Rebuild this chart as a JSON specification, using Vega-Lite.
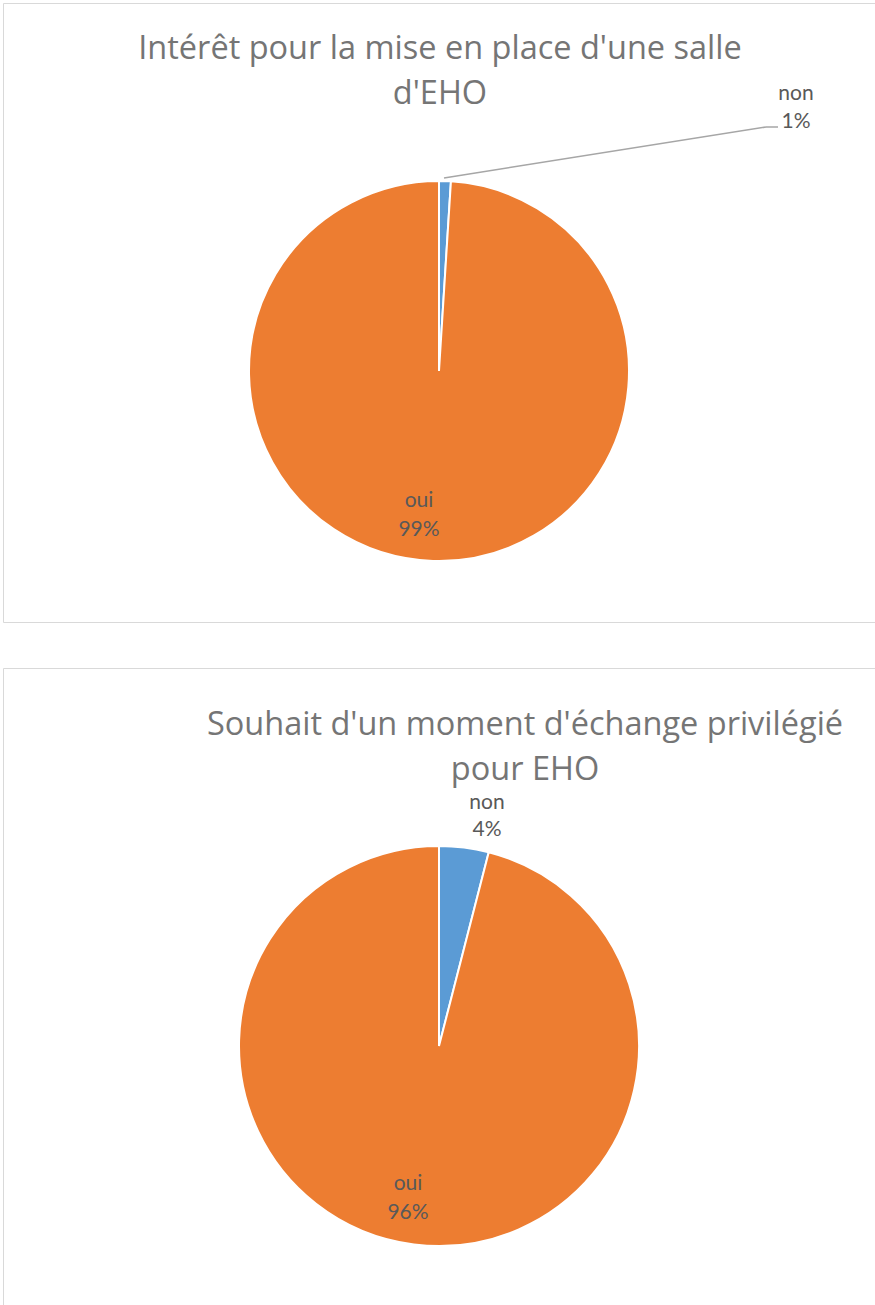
{
  "$schema": "https://vega.github.io/schema/vega-lite/v6.json",
  "padding": {"left": 2, "top": 2, "right": 1, "bottom": 0},
  "background": "#FFFFFF",
  "spacing": 44,
  "config": {
    "view": {"stroke": "#D9D9D9", "strokeWidth": 1},
    "font": "Lato",
    "text": {"font": "Lato"}
  },
  "vconcat": [
    {
      "width": 872,
      "height": 619,
      "data": {"values": [
        {"category": "non", "value": 0.01, "order": 1},
        {"category": "oui", "value": 0.99, "order": 2}
      ]},
      "layer": [
        {
          "mark": {"type": "arc", "outerRadius": 190, "stroke": "#FFFFFF", "strokeWidth": 2},
          "encoding": {
            "theta": {"field": "value", "type": "quantitative", "stack": true},
            "color": {"field": "category", "type": "nominal", "scale": {"domain": ["non", "oui"], "range": ["#5B9BD5", "#ED7D31"]}, "legend": null},
            "order": {"field": "order", "type": "quantitative"},
            "x": {"datum": 0, "type": "quantitative", "scale": {"domain": [-436, 436], "nice": false, "zero": false}, "axis": null},
            "y": {"datum": 0, "type": "quantitative", "scale": {"domain": [-251, 368], "nice": false, "zero": false}, "axis": null}
          }
        },
        {
          "transform": [{"filter": "datum.category === 'oui'"}],
          "mark": {"type": "text", "text": ["Intérêt pour la mise en place d'une salle", "d'EHO"], "font": "Open Sans", "fontSize": 32.5, "color": "#757575", "align": "center", "baseline": "alphabetic", "lineHeight": 45.3},
          "encoding": {
            "x": {"datum": 1, "type": "quantitative", "scale": {"domain": [-436, 436], "nice": false, "zero": false}, "axis": null},
            "y": {"datum": 312.3, "type": "quantitative", "scale": {"domain": [-251, 368], "nice": false, "zero": false}, "axis": null}
          }
        },
        {
          "transform": [{"filter": "datum.category === 'non'"}],
          "mark": {"type": "rule", "color": "#A6A6A6", "strokeWidth": 1.5},
          "encoding": {
            "x": {"datum": 5, "type": "quantitative", "scale": {"domain": [-436, 436], "nice": false, "zero": false}, "axis": null},
            "y": {"datum": 193, "type": "quantitative", "scale": {"domain": [-251, 368], "nice": false, "zero": false}, "axis": null},
            "x2": {"datum": 327},
            "y2": {"datum": 244}
          }
        },
        {
          "transform": [{"filter": "datum.category === 'non'"}],
          "mark": {"type": "rule", "color": "#A6A6A6", "strokeWidth": 1.5},
          "encoding": {
            "x": {"datum": 327, "type": "quantitative", "scale": {"domain": [-436, 436], "nice": false, "zero": false}, "axis": null},
            "y": {"datum": 244, "type": "quantitative", "scale": {"domain": [-251, 368], "nice": false, "zero": false}, "axis": null},
            "x2": {"datum": 339},
            "y2": {"datum": 244}
          }
        },
        {
          "transform": [{"filter": "datum.category === 'non'"}],
          "mark": {"type": "text", "fontSize": 21, "color": "#595959", "align": "center", "baseline": "alphabetic"},
          "encoding": {
            "text": {"field": "category", "type": "nominal"},
            "x": {"datum": 357, "type": "quantitative", "scale": {"domain": [-436, 436], "nice": false, "zero": false}, "axis": null},
            "y": {"datum": 271, "type": "quantitative", "scale": {"domain": [-251, 368], "nice": false, "zero": false}, "axis": null}
          }
        },
        {
          "transform": [{"filter": "datum.category === 'non'"}],
          "mark": {"type": "text", "fontSize": 21, "color": "#595959", "align": "center", "baseline": "alphabetic"},
          "encoding": {
            "text": {"field": "value", "type": "quantitative", "format": ".0%"},
            "x": {"datum": 357, "type": "quantitative", "scale": {"domain": [-436, 436], "nice": false, "zero": false}, "axis": null},
            "y": {"datum": 243, "type": "quantitative", "scale": {"domain": [-251, 368], "nice": false, "zero": false}, "axis": null}
          }
        },
        {
          "transform": [{"filter": "datum.category === 'oui'"}],
          "mark": {"type": "text", "fontSize": 21, "color": "#595959", "align": "center", "baseline": "alphabetic"},
          "encoding": {
            "text": {"field": "category", "type": "nominal"},
            "x": {"datum": -20, "type": "quantitative", "scale": {"domain": [-436, 436], "nice": false, "zero": false}, "axis": null},
            "y": {"datum": -136, "type": "quantitative", "scale": {"domain": [-251, 368], "nice": false, "zero": false}, "axis": null}
          }
        },
        {
          "transform": [{"filter": "datum.category === 'oui'"}],
          "mark": {"type": "text", "fontSize": 21, "color": "#595959", "align": "center", "baseline": "alphabetic"},
          "encoding": {
            "text": {"field": "value", "type": "quantitative", "format": ".0%"},
            "x": {"datum": -20, "type": "quantitative", "scale": {"domain": [-436, 436], "nice": false, "zero": false}, "axis": null},
            "y": {"datum": -165, "type": "quantitative", "scale": {"domain": [-251, 368], "nice": false, "zero": false}, "axis": null}
          }
        }
      ]
    },
    {
      "width": 872,
      "height": 645,
      "data": {"values": [
        {"category": "non", "value": 0.04, "order": 1},
        {"category": "oui", "value": 0.96, "order": 2}
      ]},
      "layer": [
        {
          "mark": {"type": "arc", "outerRadius": 200, "stroke": "#FFFFFF", "strokeWidth": 2},
          "encoding": {
            "theta": {"field": "value", "type": "quantitative", "stack": true},
            "color": {"field": "category", "type": "nominal", "scale": {"domain": ["non", "oui"], "range": ["#5B9BD5", "#ED7D31"]}, "legend": null},
            "order": {"field": "order", "type": "quantitative"},
            "x": {"datum": 0, "type": "quantitative", "scale": {"domain": [-436, 436], "nice": false, "zero": false}, "axis": null},
            "y": {"datum": 0, "type": "quantitative", "scale": {"domain": [-267, 378], "nice": false, "zero": false}, "axis": null}
          }
        },
        {
          "transform": [{"filter": "datum.category === 'oui'"}],
          "mark": {"type": "text", "text": ["Souhait d'un moment d'échange privilégié", "pour EHO"], "font": "Open Sans", "fontSize": 32.5, "color": "#757575", "align": "center", "baseline": "alphabetic", "lineHeight": 45},
          "encoding": {
            "x": {"datum": 86, "type": "quantitative", "scale": {"domain": [-436, 436], "nice": false, "zero": false}, "axis": null},
            "y": {"datum": 311, "type": "quantitative", "scale": {"domain": [-267, 378], "nice": false, "zero": false}, "axis": null}
          }
        },
        {
          "transform": [{"filter": "datum.category === 'non'"}],
          "mark": {"type": "text", "fontSize": 21, "color": "#595959", "align": "center", "baseline": "alphabetic"},
          "encoding": {
            "text": {"field": "category", "type": "nominal"},
            "x": {"datum": 48, "type": "quantitative", "scale": {"domain": [-436, 436], "nice": false, "zero": false}, "axis": null},
            "y": {"datum": 237, "type": "quantitative", "scale": {"domain": [-267, 378], "nice": false, "zero": false}, "axis": null}
          }
        },
        {
          "transform": [{"filter": "datum.category === 'non'"}],
          "mark": {"type": "text", "fontSize": 21, "color": "#595959", "align": "center", "baseline": "alphabetic"},
          "encoding": {
            "text": {"field": "value", "type": "quantitative", "format": ".0%"},
            "x": {"datum": 48, "type": "quantitative", "scale": {"domain": [-436, 436], "nice": false, "zero": false}, "axis": null},
            "y": {"datum": 210, "type": "quantitative", "scale": {"domain": [-267, 378], "nice": false, "zero": false}, "axis": null}
          }
        },
        {
          "transform": [{"filter": "datum.category === 'oui'"}],
          "mark": {"type": "text", "fontSize": 21, "color": "#595959", "align": "center", "baseline": "alphabetic"},
          "encoding": {
            "text": {"field": "category", "type": "nominal"},
            "x": {"datum": -31, "type": "quantitative", "scale": {"domain": [-436, 436], "nice": false, "zero": false}, "axis": null},
            "y": {"datum": -144, "type": "quantitative", "scale": {"domain": [-267, 378], "nice": false, "zero": false}, "axis": null}
          }
        },
        {
          "transform": [{"filter": "datum.category === 'oui'"}],
          "mark": {"type": "text", "fontSize": 21, "color": "#595959", "align": "center", "baseline": "alphabetic"},
          "encoding": {
            "text": {"field": "value", "type": "quantitative", "format": ".0%"},
            "x": {"datum": -31, "type": "quantitative", "scale": {"domain": [-436, 436], "nice": false, "zero": false}, "axis": null},
            "y": {"datum": -173, "type": "quantitative", "scale": {"domain": [-267, 378], "nice": false, "zero": false}, "axis": null}
          }
        }
      ]
    }
  ]
}
